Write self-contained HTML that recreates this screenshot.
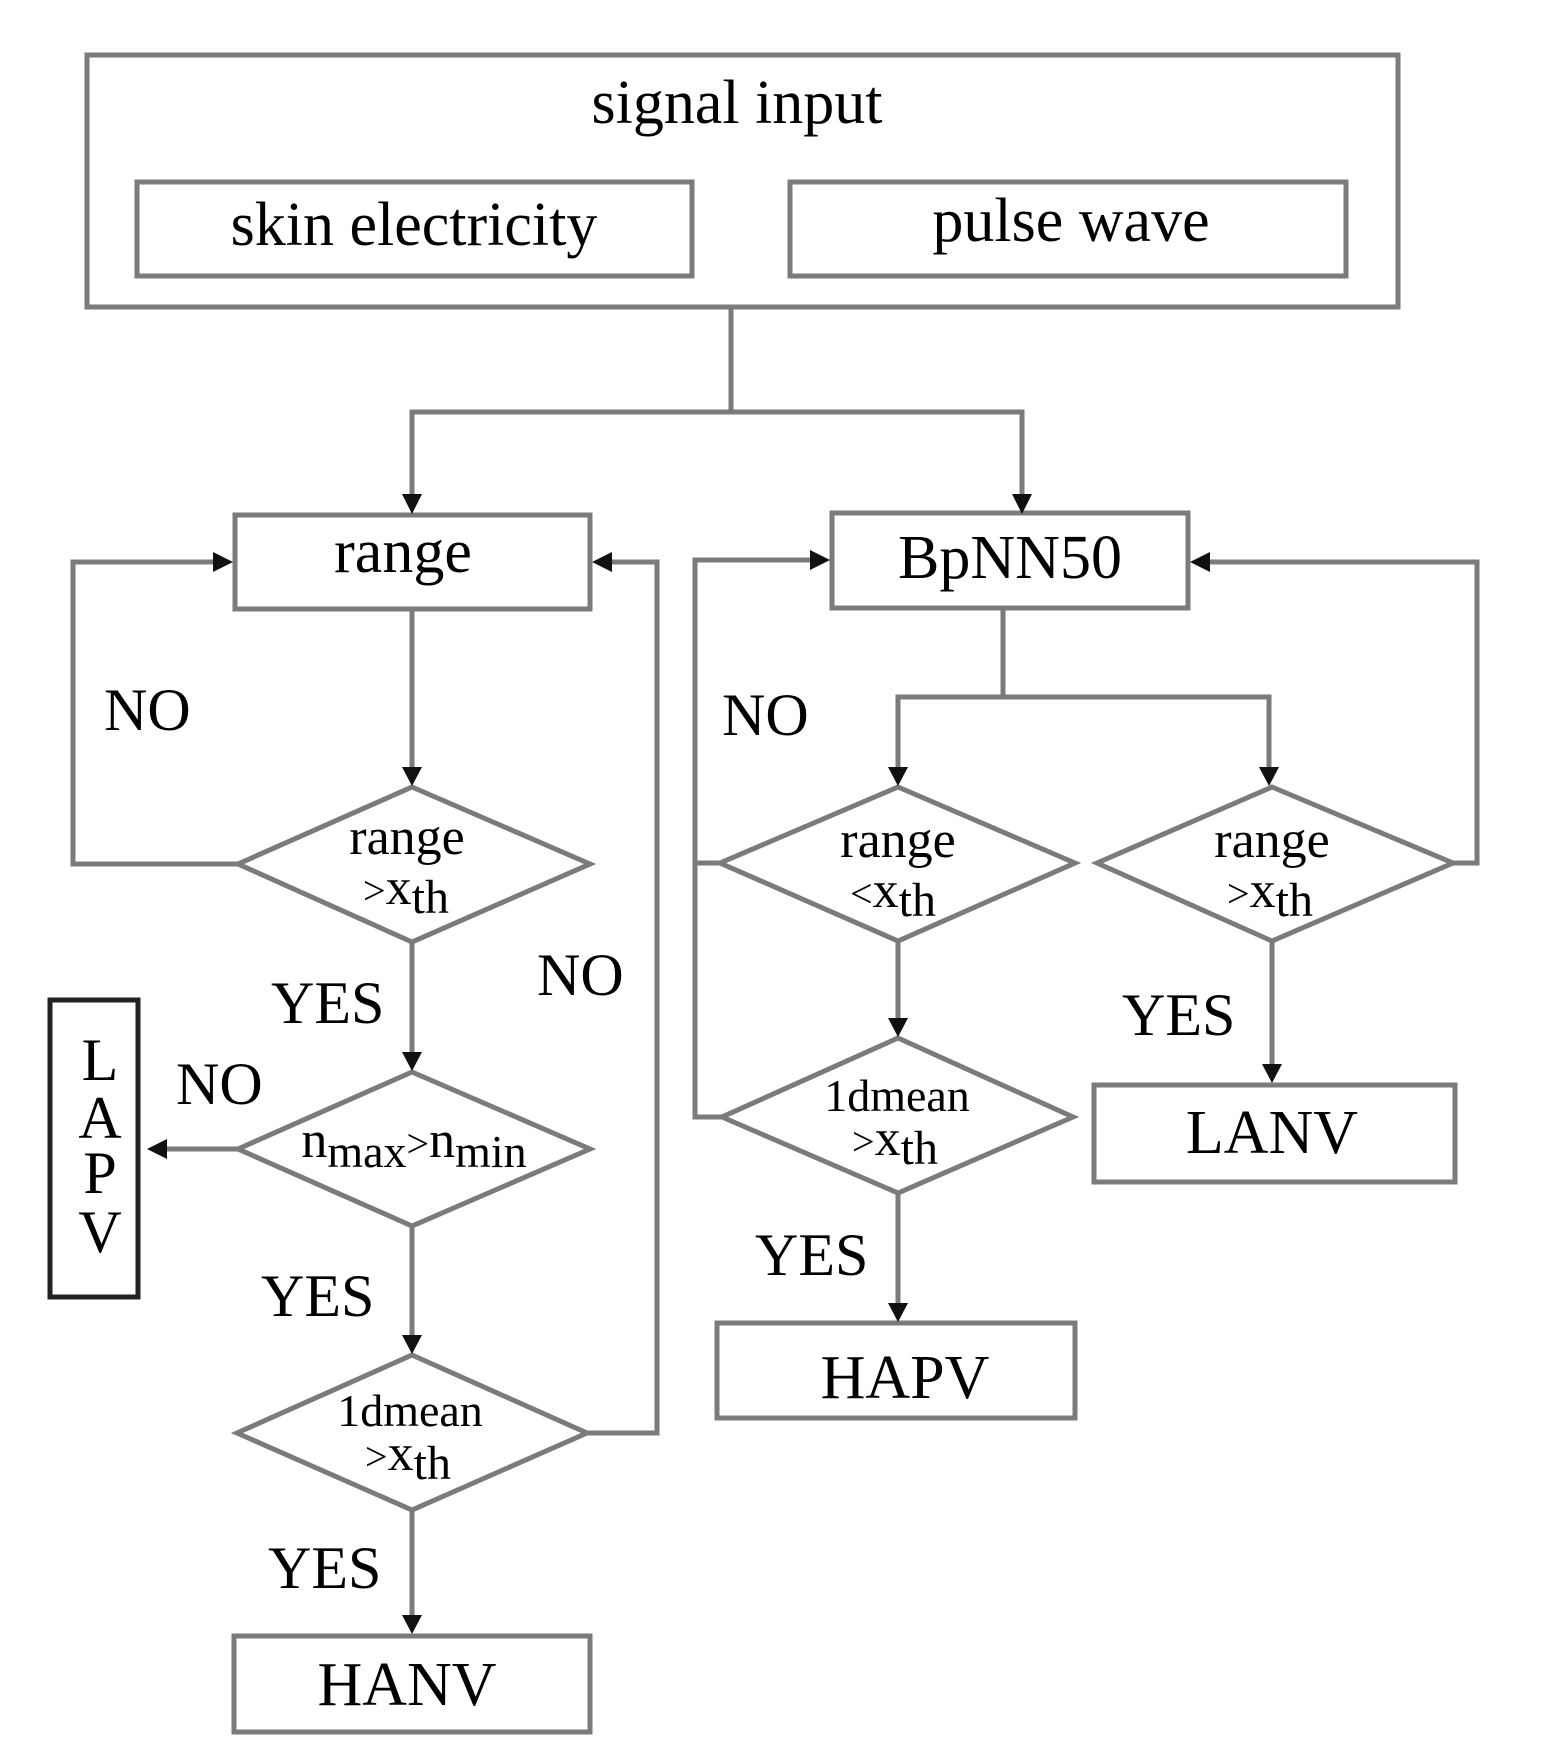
<!DOCTYPE html>
<html><head><meta charset="utf-8"><style>
html,body{margin:0;padding:0;background:#fff;}
svg{display:block;}
text{font-family:"Liberation Serif",serif;fill:#000;}
</style></head><body>
<svg width="1545" height="1756" viewBox="0 0 1545 1756" xmlns="http://www.w3.org/2000/svg">
<defs>
<marker id="a" markerWidth="8" markerHeight="8" refX="7" refY="4" orient="auto" markerUnits="userSpaceOnUse" viewBox="0 0 8 8">
</marker>
</defs>
<g fill="none" stroke="#7b7b7b" stroke-width="5">
<!-- top -->
<rect x="87" y="55" width="1311" height="252"/>
<rect x="137" y="182" width="555" height="94"/>
<rect x="790" y="182" width="556" height="94"/>
<polyline points="731,307 731,412"/>
<polyline points="412,496 412,412 1022,412 1022,496"/>
<!-- left column -->
<rect x="235" y="515" width="355" height="94"/>
<rect x="234" y="1636" width="356" height="96"/>
<line x1="412" y1="609" x2="412" y2="770"/>
<polygon points="412,787 590,864 412,942 238,864"/>
<polyline points="238,864 73,864 73,562 215,562"/>
<line x1="412" y1="942" x2="412" y2="1055"/>
<polygon points="412,1072 590,1149 412,1226 238,1149"/>
<line x1="238" y1="1149" x2="165" y2="1149"/>
<line x1="412" y1="1226" x2="412" y2="1338"/>
<polygon points="412,1355 587,1433 412,1510 237,1433"/>
<polyline points="587,1433 657,1433 657,562 610,562"/>
<line x1="412" y1="1510" x2="412" y2="1618"/>
<!-- right column -->
<rect x="832" y="513" width="356" height="95"/>
<line x1="1003" y1="608" x2="1003" y2="697"/>
<polyline points="898,770 898,697 1269,697 1269,770"/>
<polygon points="898,787 1075,863 898,941 720,863"/>
<polygon points="1272,787 1453,863 1272,941 1097,863"/>
<polyline points="1453,863 1477,863 1477,562 1208,562"/>
<polyline points="720,863 695,863"/>
<polyline points="722,1117 695,1117 695,560 812,560"/>
<line x1="898" y1="941" x2="898" y2="1021"/>
<polygon points="898,1038 1073,1117 898,1193 722,1117"/>
<line x1="898" y1="1193" x2="898" y2="1306"/>
<rect x="717" y="1323" width="358" height="95"/>
<line x1="1272" y1="941" x2="1272" y2="1067"/>
<rect x="1094" y="1085" width="361" height="97"/>
</g>
<rect x="50" y="1000" width="88" height="297" fill="none" stroke="#222" stroke-width="5"/>
<g fill="#111">
<polygon points="402,494 422,494 412,514"/>
<polygon points="1012,494 1032,494 1022,514"/>
<polygon points="213,552 213,572 233,562"/>
<polygon points="612,552 612,572 592,562"/>
<polygon points="402,767 422,767 412,786"/>
<polygon points="402,1052 422,1052 412,1071"/>
<polygon points="402,1335 422,1335 412,1354"/>
<polygon points="402,1615 422,1615 412,1634"/>
<polygon points="167,1139 167,1159 147,1149"/>
<polygon points="810,550 810,570 830,560"/>
<polygon points="1210,552 1210,572 1190,562"/>
<polygon points="888,767 908,767 898,786"/>
<polygon points="1259,767 1279,767 1269,786"/>
<polygon points="888,1018 908,1018 898,1037"/>
<polygon points="888,1303 908,1303 898,1322"/>
<polygon points="1262,1064 1282,1064 1272,1083"/>
</g>
<g font-size="62">
<text x="737" y="123" text-anchor="middle">signal input</text>
<text x="414" y="245" text-anchor="middle">skin electricity</text>
<text x="1071" y="241" text-anchor="middle">pulse wave</text>
<text x="403" y="572" text-anchor="middle">range</text>
<text x="1010" y="578" text-anchor="middle">BpNN50</text>
<text x="407" y="1705" text-anchor="middle">HANV</text>
<text x="905" y="1398" text-anchor="middle">HAPV</text>
<text x="1272" y="1153" text-anchor="middle">LANV</text>
</g>
<g font-size="60">
<text x="104" y="730">NO</text>
<text x="537" y="995">NO</text>
<text x="176" y="1104">NO</text>
<text x="722" y="735">NO</text>
<text x="271" y="1023">YES</text>
<text x="261" y="1316">YES</text>
<text x="268" y="1588">YES</text>
<text x="755" y="1275">YES</text>
<text x="1122" y="1035">YES</text>
<text x="100" y="1080" text-anchor="middle">L</text>
<text x="100" y="1138" text-anchor="middle">A</text>
<text x="100" y="1193" text-anchor="middle">P</text>
<text x="100" y="1252" text-anchor="middle">V</text>
</g>
<g font-size="52">
<text x="407" y="854" text-anchor="middle">range</text>
<text x="406" y="904" text-anchor="middle"><tspan font-size="40">&gt;</tspan>x<tspan font-size="48" dy="9">th</tspan></text>
<text x="898" y="857" text-anchor="middle">range</text>
<text x="893" y="907" text-anchor="middle"><tspan font-size="40">&lt;</tspan>x<tspan font-size="48" dy="9">th</tspan></text>
<text x="1272" y="857" text-anchor="middle">range</text>
<text x="1270" y="907" text-anchor="middle"><tspan font-size="40">&gt;</tspan>x<tspan font-size="48" dy="9">th</tspan></text>
<text x="414" y="1157" text-anchor="middle">n<tspan font-size="46" dy="10">max</tspan><tspan font-size="40" dy="-10">&gt;</tspan>n<tspan font-size="46" dy="10">min</tspan></text>
<text x="410" y="1426" text-anchor="middle" font-size="46">1dmean</text>
<text x="408" y="1470" text-anchor="middle"><tspan font-size="40">&gt;</tspan>x<tspan font-size="48" dy="9">th</tspan></text>
<text x="897" y="1111" text-anchor="middle" font-size="46">1dmean</text>
<text x="895" y="1155" text-anchor="middle"><tspan font-size="40">&gt;</tspan>x<tspan font-size="48" dy="9">th</tspan></text>
</g>
</svg>
</body></html>
